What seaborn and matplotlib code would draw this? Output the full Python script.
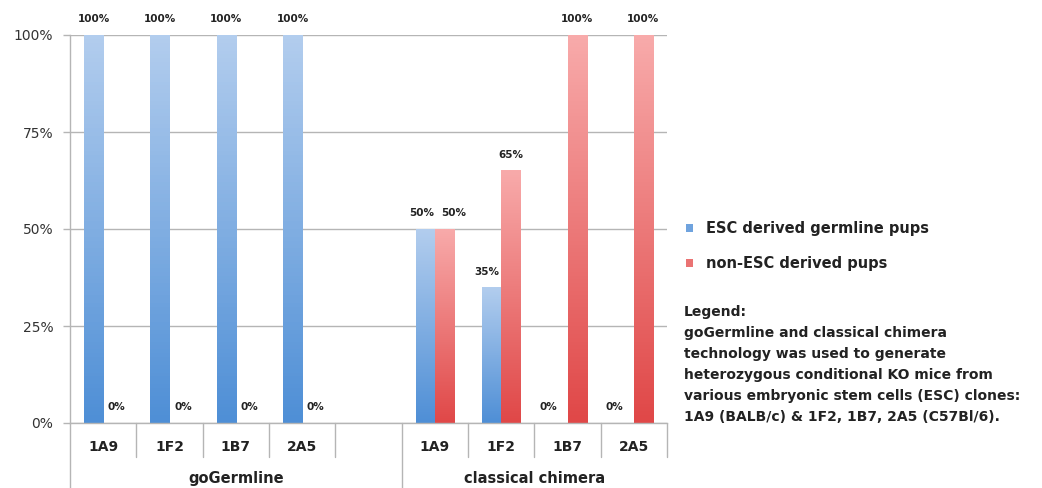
import numpy as np
import pandas as pd
import matplotlib
matplotlib.use("Agg")
import matplotlib.pyplot as plt
import seaborn as sns
from matplotlib.patches import Patch

# chart data
slots = ["g1A9", "g1F2", "g1B7", "g2A5", "gap", "c1A9", "c1F2", "c1B7", "c2A5"]
slot_labels = ["1A9", "1F2", "1B7", "2A5", "", "1A9", "1F2", "1B7", "2A5"]
groups = ["goGermline", "classical chimera"]
group_spans = [(0, 5), (5, 9)]
series = ["ESC derived germline pups", "non-ESC derived pups"]
esc_values = [100, 100, 100, 100, np.nan, 50, 35, 0, 0]
non_esc_values = [0, 0, 0, 0, np.nan, 50, 65, 100, 100]
y_ticks = [0, 25, 50, 75, 100]
note = ("Legend:\n"
        "goGermline and classical chimera\n"
        "technology was used to generate\n"
        "heterozygous conditional KO mice from\n"
        "various embryonic stem cells (ESC) clones:\n"
        "1A9 (BALB/c) & 1F2, 1B7, 2A5 (C57Bl/6).")

df = pd.DataFrame({
    "slot": slots * 2,
    "value": esc_values + non_esc_values,
    "series": [series[0]] * len(slots) + [series[1]] * len(slots),
})

sns.set_style("white")
plt.rcParams['font.family'] = ['DejaVu Sans']

blue_top, blue_bot = "#b2cdee", "#4f8fd6"
red_top, red_bot = "#f8aaaa", "#e04848"
grid_col = "#b5b5b5"
txt_col = "#222222"

fig = plt.figure(figsize=(10.42, 4.88), dpi=100)
ax = fig.add_axes([70 / 1042, 1 - 423 / 488, 597 / 1042, 388 / 488])

sns.barplot(data=df, x="slot", y="value", hue="series", order=slots,
            hue_order=series, palette=[blue_bot, red_bot], width=0.574,
            dodge=True, ax=ax, legend=False, errorbar=None)

# vertical gradient fill on each bar + value labels
vals = [esc_values, non_esc_values]
for k, (cont, (c_top, c_bot)) in enumerate(zip(ax.containers,
                                    [(blue_top, blue_bot), (red_top, red_bot)])):
    cmap = matplotlib.colors.LinearSegmentedColormap.from_list("g", [c_bot, c_top])
    for bar in cont:
        x, w, h = bar.get_x(), bar.get_width(), bar.get_height()
        if np.isnan(h):
            continue
        if h > 0:
            grad = np.linspace(0, 1, 100).reshape(-1, 1)
            ax.imshow(grad, cmap=cmap, origin="lower", aspect="auto",
                      extent=[x, x + w, 0, h], zorder=bar.get_zorder() + 0.1)
        bar.set_alpha(0)
        # nudge labels apart like the original chart does
        slot = int(round(x + w / 2 + (0.5 * w if k == 0 else -0.5 * w)))
        other = vals[1 - k][slot]
        if h == 0:
            dx = -10 if k == 0 else 4
        elif other > 0 and abs(other - h) < 10:
            dx = -4 if k == 0 else 9
        elif other > 0:
            dx = -5 if k == 0 else 0
        else:
            dx = 0
        ax.annotate(f"{h:.0f}%", (x + w / 2, h), xytext=(dx, 10.5),
                    textcoords="offset pixels", ha="center", va="bottom",
                    fontsize=7.5, fontweight="bold", color=txt_col,
                    annotation_clip=False)

ax.set_xlim(-0.5, len(slots) - 0.5)
ax.set_ylim(0, 100)
ax.set_yticks(y_ticks)
ax.set_yticklabels([f"{t}%" for t in y_ticks])
ax.set_xticks([])
ax.set_xlabel("")
ax.set_ylabel("")
ax.yaxis.grid(True, color=grid_col, linewidth=1)
ax.set_axisbelow(True)
ax.tick_params(axis="y", left=True, length=5, width=1, color=grid_col,
               pad=7, labelsize=10, labelcolor="#333333")
for side in ["top", "right"]:
    ax.spines[side].set_visible(False)
for side in ["left", "bottom"]:
    ax.spines[side].set_color(grid_col)
    ax.spines[side].set_linewidth(1)

# category table below the axis
tr = ax.get_xaxis_transform()
for i in range(len(slots) + 1):
    xb = i - 0.5
    long_line = i in (0, group_spans[0][1])
    ax.plot([xb, xb], [0, -0.1675 if long_line else -0.0876], transform=tr,
            color=grid_col, linewidth=1, clip_on=False)
for i, lab in enumerate(slot_labels):
    ax.text(i, -0.062, lab, transform=tr, ha="center", va="center",
            fontsize=10, fontweight="bold", color=txt_col)
for g, (a, b) in zip(groups, group_spans):
    ax.text((a + b - 1) / 2, -0.142, g, transform=tr, ha="center",
            va="center", fontsize=10.5, fontweight="bold", color=txt_col)

# legend and note
handles = [Patch(facecolor="#6fa3de", edgecolor="none"),
           Patch(facecolor="#ea7373", edgecolor="none")]
fig.legend(handles, series, loc="upper left",
           bbox_to_anchor=(673 / 1042, 1 - 208 / 488), frameon=False,
           prop={"size": 10.5, "weight": "bold"}, handlelength=0.48,
           handleheight=0.48, handletextpad=0.9, labelspacing=1.35,
           labelcolor=txt_col)
fig.text(684 / 1042, 1 - 305 / 488, note, ha="left", va="top",
         fontsize=10, fontweight="bold", linespacing=1.64, color=txt_col)

fig.savefig("out.png", dpi=100)
